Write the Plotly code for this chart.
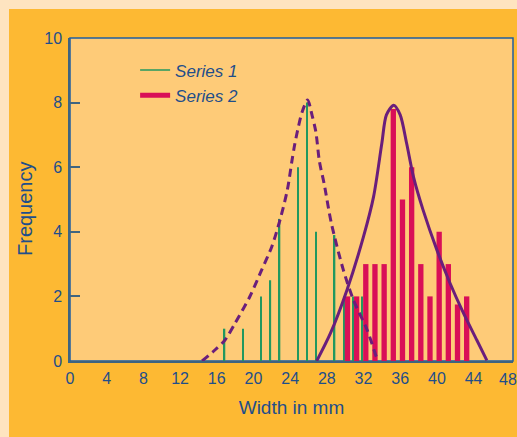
import plotly.graph_objects as go

# ---- data ----
s1_x = [17, 19, 21, 22, 23, 25, 26, 27, 29, 30, 31, 32]
s1_y = [1, 1, 2, 2.5, 4.4, 6, 8, 4, 3.9, 2, 2, 2]

s2_x = [30, 31, 32, 33, 34, 35, 36, 37, 38, 39, 40, 41, 42, 43]
s2_y = [2, 2, 3, 3, 3, 7.8, 5, 6, 3, 2, 4, 3, 1.75, 2]

fit1_x = [14.4, 15.8, 16.9, 18.0, 19.6, 20.9, 22.0, 22.9, 23.7, 24.2, 24.5, 24.9, 25.3, 25.9,
          26.4, 26.8, 27.2, 27.7, 28.5, 29.8, 30.9, 32.4, 33.4, 33.6]
fit1_y = [0, 0.34, 0.65, 1.17, 1.99, 2.82, 3.54, 4.37, 5.3, 6.2, 6.7, 7.25, 7.7, 8.08,
          7.6, 7.1, 6.17, 5.5, 4.26, 2.82, 1.89, 0.96, 0.13, 0]

fit2_x = [26.9, 28.4, 30.2, 32.0, 33.1, 34.0, 34.5, 35.3, 36.0, 36.7, 37.45, 38.5, 40.0,
          41.45, 42.9, 44.35, 45.45]
fit2_y = [0, 0.86, 2.2, 3.85, 5.09, 6.74, 7.62, 7.92, 7.62, 6.74, 5.7, 4.67, 3.44,
          2.4, 1.48, 0.65, 0.02]

x_ticks = list(range(0, 49, 4))
y_ticks = [0, 2, 4, 6, 8, 10]

GREEN = "#22985F"
RED = "#D90F57"
PURPLE = "#6A1E7C"
TEXT = "#1F4E8A"
AXIS = "#3E6480"

fig = go.Figure()

fig.add_trace(go.Bar(x=s1_x, y=s1_y, width=0.16, offset=-0.23,
                     marker=dict(color=GREEN, line=dict(width=0)), showlegend=False))
fig.add_trace(go.Bar(x=s2_x, y=s2_y, width=0.58, offset=-0.04,
                     marker=dict(color=RED, line=dict(width=0)), showlegend=False))

fig.add_trace(go.Scatter(x=fit1_x, y=fit1_y, mode="lines",
                         line=dict(color=PURPLE, width=3, dash="8px,5px", shape="spline", smoothing=0.8),
                         showlegend=False))
fig.add_trace(go.Scatter(x=fit2_x, y=fit2_y, mode="lines",
                         line=dict(color=PURPLE, width=3, shape="spline", smoothing=0.8),
                         showlegend=False))

# legend entries
fig.add_trace(go.Scatter(x=[None], y=[None], mode="lines", name="Series 1",
                         line=dict(color=GREEN, width=1.5)))
fig.add_trace(go.Scatter(x=[None], y=[None], mode="lines", name="Series 2",
                         line=dict(color=RED, width=5)))

W, H = 517, 437
L, R, T, B = 70, 4, 38, 76
pw, ph = W - L - R, H - T - B

def px_x(p):
    return (p - L) / pw

def px_y(p):
    return (H - B - p) / ph

# last tick label sits at the page edge
last_tick = x_ticks[-1]
shown_ticks = x_ticks[:-1]

fig.update_layout(
    width=W, height=H,
    margin=dict(l=L, r=R, t=T, b=B),
    paper_bgcolor="#FEE4C0",
    plot_bgcolor="rgba(0,0,0,0)",
    barmode="overlay",
    font=dict(family="Liberation Sans, Arial, sans-serif", color=TEXT, size=16),
    shapes=[
        dict(type="rect", xref="paper", yref="paper", layer="below",
             x0=px_x(9), x1=px_x(W + 5), y0=px_y(H + 5), y1=px_y(9),
             fillcolor="#FDB933", line=dict(width=0)),
        dict(type="rect", xref="paper", yref="paper", layer="below",
             x0=0, x1=1, y0=0, y1=1,
             fillcolor="#FECB78", line=dict(color="#1F5FA0", width=1.5)),
    ],
    annotations=[
        dict(x=last_tick, xref="x", y=0, yref="paper", yanchor="top", yshift=-8, xshift=-2,
             text=str(last_tick), showarrow=False, font=dict(size=16, color=TEXT)),
        dict(x=px_x(25), xref="paper", y=px_y(209), yref="paper",
             xanchor="center", yanchor="middle", textangle=-90,
             text="Frequency", showarrow=False, font=dict(size=20, color=TEXT)),
    ],
    legend=dict(x=0.147, y=0.955, xanchor="left", yanchor="top",
                bgcolor="rgba(0,0,0,0)",
                font=dict(size=17, color=TEXT, style="italic"),
                tracegroupgap=0),
    xaxis=dict(range=[0, 48.3], tickvals=shown_ticks, ticktext=[str(v) for v in shown_ticks],
               showgrid=False, zeroline=False, showline=True, linecolor=AXIS, linewidth=1.5,
               ticks="", tickfont=dict(size=16, color=TEXT), ticklabelstandoff=2,
               title=dict(text="Width in mm", font=dict(size=19, color=TEXT), standoff=15)),
    yaxis=dict(range=[0, 10], tickvals=y_ticks, ticktext=[str(v) for v in y_ticks],
               showgrid=False, zeroline=False, showline=True, linecolor=AXIS, linewidth=1.5,
               ticks="inside", ticklen=10, tickcolor=AXIS, tickwidth=1.5,
               tickfont=dict(size=16, color=TEXT), ticklabelstandoff=3),
)

fig.write_html("out.html", config={"displayModeBar": False},
               post_script="document.body.style.margin='0';document.body.style.overflow='hidden';")
